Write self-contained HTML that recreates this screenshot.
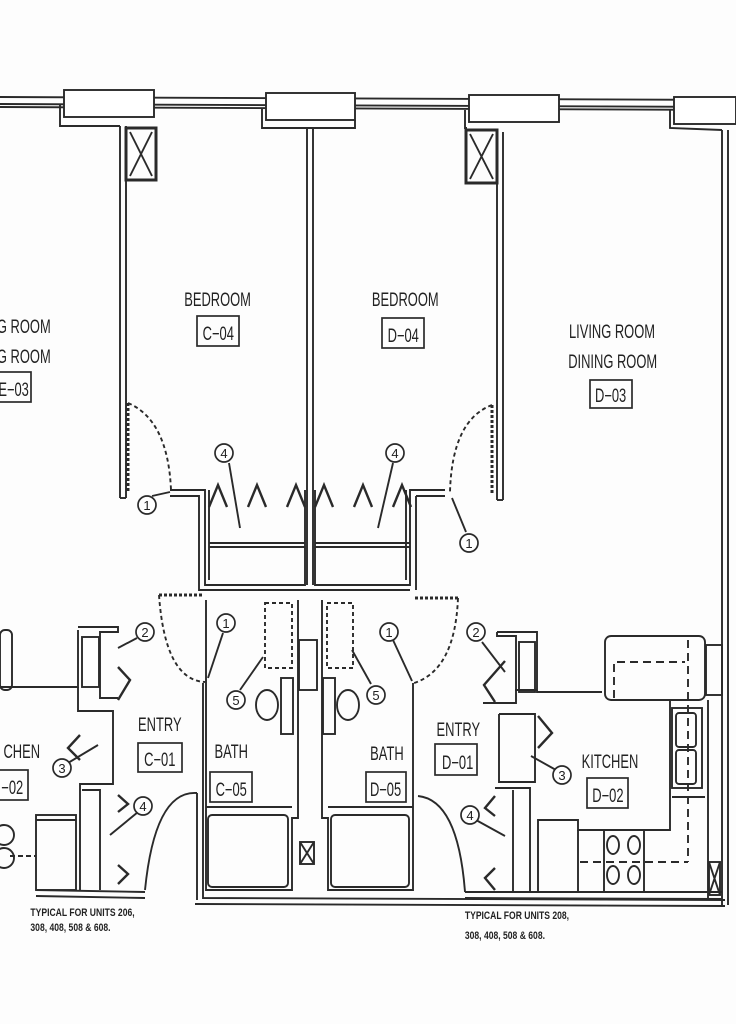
<!DOCTYPE html>
<html><head><meta charset="utf-8"><style>
html,body{margin:0;padding:0;background:#fff}
svg{display:block}
text{font-family:"Liberation Sans",sans-serif;fill:#222}
</style></head><body>
<svg width="736" height="1024" viewBox="0 0 736 1024" xmlns="http://www.w3.org/2000/svg">
<rect width="736" height="1024" fill="#fdfdfd"/>
<g stroke="#2a2a2a" stroke-width="1.9" fill="none">
<line x1="0" y1="97" x2="736" y2="100"/>
<line x1="0" y1="104" x2="736" y2="107"/>
<line x1="0" y1="107" x2="736" y2="110"/>
<rect x="64" y="90" width="90" height="27" fill="#fff"/>
<rect x="266" y="93" width="89" height="27" fill="#fff"/>
<rect x="469" y="95" width="90" height="27" fill="#fff"/>
<rect x="674" y="97" width="62" height="27" fill="#fff"/>
<polyline points="60,104 60,126 120,126"/>
<polyline points="262,108 262,128 355,128 355,120"/>
<polyline points="465,110 465,128 467,128"/>
<polyline points="670,110 670,128 722,130"/>
<line x1="120" y1="126" x2="120" y2="498"/><line x1="126" y1="126" x2="126" y2="498"/>
<line x1="120" y1="498" x2="126" y2="498"/>
<line x1="307" y1="128" x2="307" y2="585"/><line x1="313" y1="128" x2="313" y2="585"/>
<line x1="497" y1="132" x2="497" y2="500"/><line x1="503" y1="132" x2="503" y2="500"/>
<line x1="497" y1="500" x2="503" y2="500"/>
<line x1="722" y1="130" x2="722" y2="905"/><line x1="728" y1="130" x2="728" y2="905"/>
<rect x="126" y="128" width="30" height="52" stroke-width="3"/>
<line x1="130" y1="132" x2="152" y2="176"/><line x1="152" y1="132" x2="130" y2="176"/>
<rect x="466" y="130" width="31" height="53" stroke-width="3"/>
<line x1="470" y1="134" x2="493" y2="179"/><line x1="493" y1="134" x2="470" y2="179"/>
<polyline points="170,490 205,490 205,585 305,585 305,490"/>
<polyline points="170,496 199,496 199,590 410,590"/>
<polyline points="315,490 315,585 410,585 410,490 445,490"/>
<polyline points="416,496 416,590"/><line x1="416" y1="496" x2="445" y2="496"/>
<line x1="209" y1="543" x2="305" y2="543"/><line x1="209" y1="547" x2="305" y2="547"/>
<line x1="315" y1="543" x2="410" y2="543"/><line x1="315" y1="547" x2="410" y2="547"/>
<line x1="209" y1="490" x2="209" y2="580"/><line x1="406" y1="490" x2="406" y2="580"/>
<g stroke-width="2.4">
<polyline points="209,507 218,485 227,507"/><polyline points="248,507 257,485 266,507"/>
<polyline points="287,507 296,485 305,507"/><polyline points="315,507 324,485 333,507"/>
<polyline points="354,507 363,485 372,507"/><polyline points="393,507 402,485 411,507"/>
</g>
<path d="M128,403 Q168,420 171,490" stroke-dasharray="4,3"/>
<line x1="128" y1="403" x2="128" y2="492" stroke-dasharray="3,2" stroke-width="3"/>
<path d="M492,405 Q452,420 450,492" stroke-dasharray="4,3"/>
<line x1="492" y1="405" x2="492" y2="494" stroke-dasharray="3,2" stroke-width="3"/>
<path d="M159,595 Q165,680 205,682" stroke-dasharray="4,3"/>
<line x1="159" y1="595" x2="203" y2="595" stroke-dasharray="3,2" stroke-width="3"/>
<path d="M458,598 Q455,670 414,683" stroke-dasharray="4,3"/>
<line x1="415" y1="598" x2="460" y2="598" stroke-dasharray="3,2" stroke-width="3"/>
<polyline points="203,683 203,898 725,900"/>
<polyline points="197,793 197,900"/>
<line x1="195" y1="904" x2="725" y2="906"/>
<polyline points="206,600 206,890 292,890 292,818 298,818 298,600"/>
<line x1="206" y1="807" x2="292" y2="807"/>
<rect x="208" y="815" width="80" height="72" rx="4"/>
<polyline points="322,600 322,818 328,818 328,890 413,890 413,683"/>
<line x1="328" y1="807" x2="413" y2="807"/>
<rect x="331" y="815" width="78" height="72" rx="4"/>
<rect x="299" y="640" width="18" height="50"/>
<rect x="300" y="842" width="14" height="22"/><line x1="300" y1="842" x2="314" y2="864"/><line x1="314" y1="842" x2="300" y2="864"/>
<ellipse cx="267" cy="705" rx="11" ry="15"/><rect x="281" y="678" width="12" height="56"/>
<ellipse cx="348" cy="705" rx="11" ry="15"/><rect x="323" y="678" width="12" height="56"/>
<rect x="265" y="603" width="27" height="65" stroke-dasharray="4,3"/>
<rect x="327" y="603" width="26" height="65" stroke-dasharray="4,3"/>
<polyline points="78,630 78,687 0,687"/>
<polyline points="78,627 118,627 118,632 100,632 100,698 118,698"/>
<rect x="82" y="637" width="17" height="50"/>
<polyline points="78,687 78,711 113,711 113,784 80,784 80,890"/>
<polyline points="82,790 100,790 100,890"/>
<line x1="36" y1="890" x2="145" y2="892"/><line x1="36" y1="896" x2="145" y2="898"/>
<path d="M145,890 Q155,790 197,793"/>
<rect x="0" y="630" width="12" height="60" rx="5"/>
<rect x="36" y="815" width="40" height="75"/><line x1="36" y1="820" x2="76" y2="820"/>
<circle cx="4" cy="835" r="10"/><circle cx="4" cy="858" r="10"/><line x1="10" y1="856" x2="36" y2="856" stroke-dasharray="5,3"/>
<g stroke-width="2.4">
<polyline points="118,667 130,680 118,700"/><polyline points="80,735 68,748 80,760"/>
<polyline points="118,795 128,804 118,812"/><polyline points="118,865 128,874 118,884"/>
</g>
<polyline points="497,632 537,632 537,690 515,690"/>
<polyline points="497,632 497,636 516,636 516,703 483,703"/>
<rect x="519" y="642" width="16" height="50"/>
<polyline points="537,690 537,692 602,692"/>
<polyline points="499,714 535,714 535,782 499,782 499,714"/>
<polyline points="495,788 530,788 530,892"/><line x1="513" y1="790" x2="513" y2="892"/>
<line x1="465" y1="892" x2="722" y2="892"/><line x1="465" y1="898" x2="722" y2="899"/>
<path d="M465,892 Q458,800 418,796"/>
<rect x="605" y="636" width="100" height="64" rx="6"/>
<polyline points="614,698 614,662 685,662" stroke-dasharray="8,5"/>
<line x1="688" y1="640" x2="688" y2="862" stroke-dasharray="8,5"/>
<rect x="706" y="645" width="16" height="50"/>
<line x1="708" y1="700" x2="708" y2="898"/>
<rect x="709" y="862" width="11" height="33"/><line x1="709" y1="862" x2="720" y2="895"/><line x1="720" y1="862" x2="709" y2="895"/>
<rect x="672" y="708" width="30" height="80"/><rect x="676" y="713" width="20" height="34" rx="3"/><rect x="676" y="750" width="20" height="34" rx="3"/>
<polyline points="670,700 670,830 578,830 578,820 538,820 538,892"/>
<line x1="578" y1="830" x2="578" y2="892"/>
<rect x="604" y="830" width="40" height="62"/>
<ellipse cx="613" cy="845" rx="6" ry="9"/><ellipse cx="634" cy="845" rx="6" ry="9"/>
<ellipse cx="613" cy="875" rx="6" ry="9"/><ellipse cx="634" cy="875" rx="6" ry="9"/>
<line x1="580" y1="862" x2="688" y2="862" stroke-dasharray="8,5"/>
<line x1="672" y1="797" x2="705" y2="797"/>
<g stroke-width="2.4">
<polyline points="505,661 484,685 495,702"/><polyline points="538,716 552,733 538,748"/>
<polyline points="495,796 485,808 495,816"/><polyline points="495,868 485,878 495,890"/>
</g>
<line x1="152" y1="496" x2="170" y2="492"/><line x1="229" y1="463" x2="240" y2="528"/>
<line x1="393" y1="463" x2="378" y2="528"/><line x1="466" y1="532" x2="452" y2="498"/>
<line x1="137" y1="638" x2="118" y2="648"/><line x1="223" y1="633" x2="208" y2="678"/>
<line x1="393" y1="640" x2="412" y2="681"/><line x1="482" y1="642" x2="505" y2="672"/>
<line x1="240" y1="690" x2="263" y2="657"/><line x1="371" y1="684" x2="352" y2="650"/>
<line x1="68" y1="763" x2="98" y2="745"/><line x1="138" y1="812" x2="110" y2="835"/>
<line x1="556" y1="770" x2="531" y2="756"/><line x1="476" y1="820" x2="505" y2="836"/>
</g>
<g stroke="#2a2a2a" stroke-width="1.7" fill="#fff">
<circle cx="147" cy="505" r="9"/><circle cx="224" cy="453" r="9"/><circle cx="395" cy="453" r="9"/>
<circle cx="469" cy="543" r="9"/><circle cx="145" cy="632" r="9"/><circle cx="226" cy="623" r="9"/>
<circle cx="389" cy="632" r="9"/><circle cx="476" cy="632" r="9"/><circle cx="236" cy="700" r="9"/>
<circle cx="376" cy="695" r="9"/><circle cx="62" cy="768" r="9"/><circle cx="143" cy="806" r="9"/>
<circle cx="562" cy="775" r="9"/><circle cx="470" cy="815" r="9"/>
</g>
<g font-size="13" text-anchor="middle">
<text x="147" y="510">1</text><text x="224" y="458">4</text><text x="395" y="458">4</text>
<text x="469" y="548">1</text><text x="145" y="637">2</text><text x="226" y="628">1</text>
<text x="389" y="637">1</text><text x="476" y="637">2</text><text x="236" y="705">5</text>
<text x="376" y="700">5</text><text x="62" y="773">3</text><text x="143" y="811">4</text>
<text x="562" y="780">3</text><text x="470" y="820">4</text>
</g>
<g fill="none" stroke="#2a2a2a" stroke-width="1.7">
<rect x="197" y="316" width="42" height="30"/><rect x="382" y="318" width="42" height="30"/>
<rect x="590" y="380" width="42" height="28"/><rect x="-2" y="372" width="33" height="30"/>
<rect x="138" y="743" width="44" height="29"/><rect x="210" y="772" width="42" height="30"/>
<rect x="366" y="772" width="40" height="30"/><rect x="435" y="744" width="42" height="31"/>
<rect x="587" y="778" width="41" height="30"/><rect x="-2" y="770" width="30" height="30"/>
</g>
<g font-size="19" text-anchor="middle" transform="scale(0.68,1)">
<text x="320" y="306">BEDROOM</text><text x="321" y="340">C−04</text>
<text x="596" y="306">BEDROOM</text><text x="593" y="342">D−04</text>
<text x="900" y="338">LIVING ROOM</text><text x="901" y="368">DINING ROOM</text><text x="898" y="402">D−03</text>
<text x="35" y="333">G ROOM</text><text x="35" y="363">G ROOM</text><text x="20" y="396">E−03</text>
<text x="235" y="731">ENTRY</text><text x="235" y="766">C−01</text>
<text x="340" y="758">BATH</text><text x="340" y="796">C−05</text>
<text x="569" y="760">BATH</text><text x="567" y="796">D−05</text>
<text x="674" y="736">ENTRY</text><text x="673" y="769">D−01</text>
<text x="897" y="768">KITCHEN</text><text x="894" y="802">D−02</text>
<text x="32" y="758">CHEN</text><text x="18" y="794">−02</text>
</g>
<g font-size="11" font-weight="bold" transform="scale(0.78,1)">
<text x="39" y="916">TYPICAL FOR UNITS 206,</text><text x="39" y="931">308, 408, 508 &amp; 608.</text>
<text x="596" y="919">TYPICAL FOR UNITS 208,</text><text x="596" y="939">308, 408, 508 &amp; 608.</text>
</g>
</svg>
</body></html>
